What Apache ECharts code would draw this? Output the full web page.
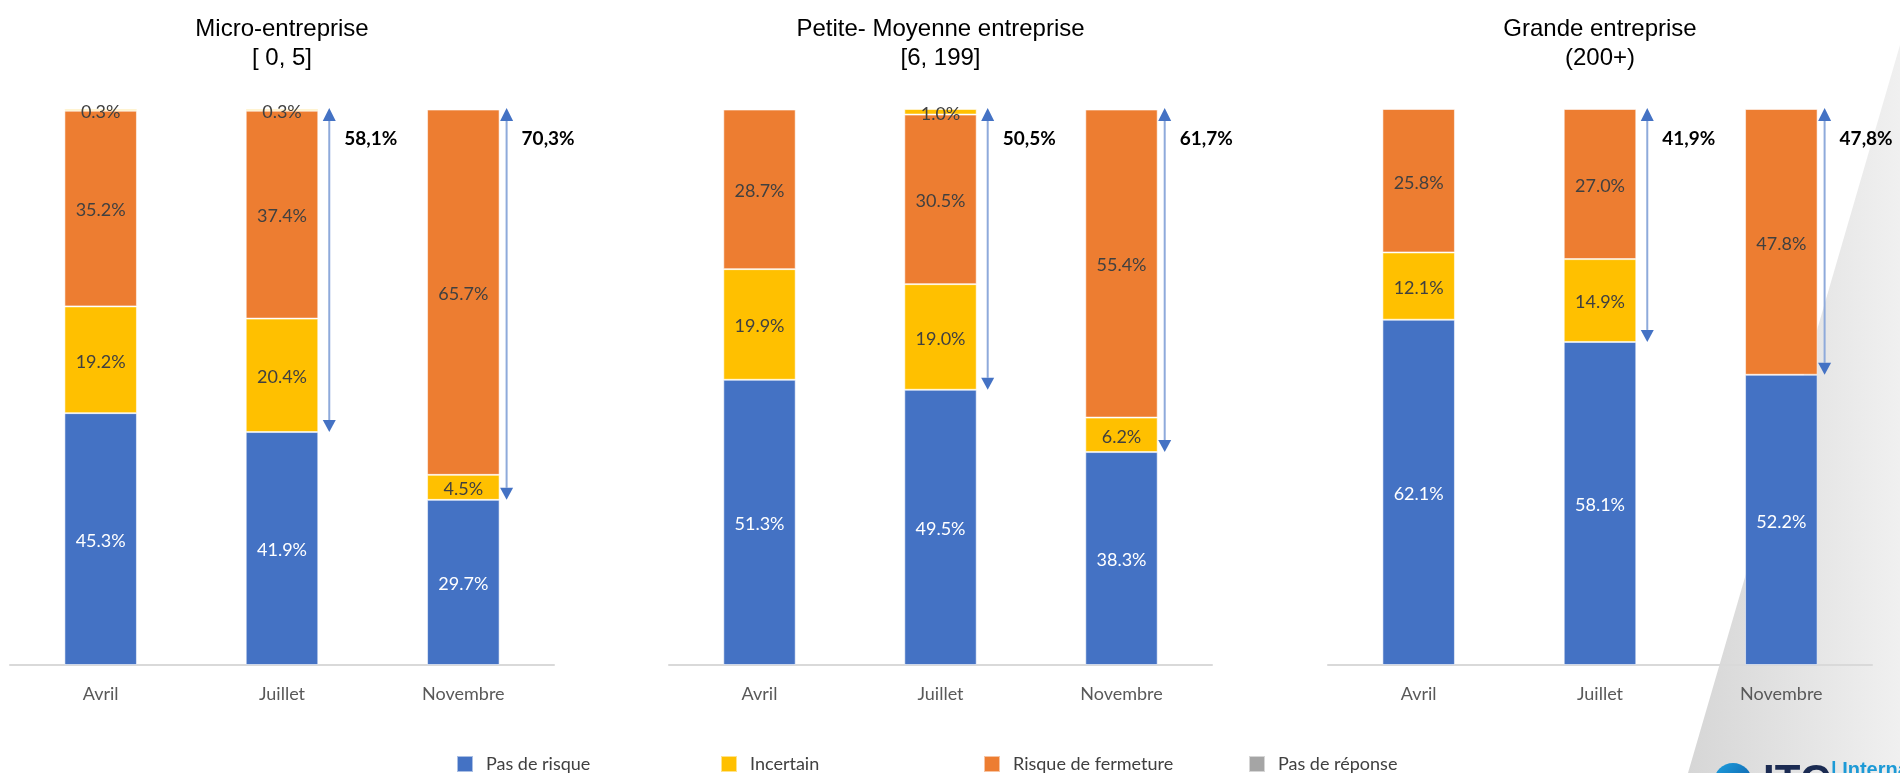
<!DOCTYPE html>
<html>
<head>
<meta charset="utf-8">
<script src="https://cdn.jsdelivr.net/npm/echarts@6/dist/echarts.min.js"></script>
<style>
html,body{margin:0;padding:0;background:#fff;}
#chart{width:1900px;height:773px;}
</style>
</head>
<body>
<div id="chart"></div>
<script>
// ---------- DATA ----------
const categories = ['Avril', 'Juillet', 'Novembre'];
const seriesNames = ['Pas de risque', 'Incertain', 'Risque de fermeture', 'Pas de réponse'];
const panelTitles = ['Micro-entreprise\n[ 0, 5]', 'Petite- Moyenne entreprise\n[6, 199]', 'Grande entreprise\n(200+)'];

// Micro-entreprise [0,5]
const microPasDeRisque = [45.3, 41.9, 29.7];
const microIncertain   = [19.2, 20.4, 4.5];
const microRisque      = [35.2, 37.4, 65.7];
const microPasReponse  = [0.3, 0.3, null];

// Petite- Moyenne entreprise [6,199]
const pmePasDeRisque = [51.3, 49.5, 38.3];
const pmeIncertain   = [19.9, 19.0, 6.2];
const pmeRisque      = [28.7, 30.5, 55.4];
const pmePasReponse  = [null, 1.0, null];

// Grande entreprise (200+)
const grandePasDeRisque = [62.1, 58.1, 52.2];
const grandeIncertain   = [12.1, 14.9, null];
const grandeRisque      = [25.8, 27.0, 47.8];
const grandePasReponse  = [null, null, null];

// Arrows (from 100% down to top of "Pas de risque")
const arrowCategories = ['Juillet', 'Novembre'];
const microArrowBottom  = [41.9, 29.7];
const microArrowLabels  = ['58,1%', '70,3%'];
const pmeArrowBottom    = [49.5, 38.3];
const pmeArrowLabels    = ['50,5%', '61,7%'];
const grandeArrowBottom = [58.1, 52.2];
const grandeArrowLabels = ['41,9%', '47,8%'];

// ---------- STYLE / LAYOUT ----------
const colors = ['#4472c4', '#ffc000', '#ed7d31', '#ffc000'];
const legendIconColors = ['#4472c4', '#ffc000', '#ed7d31', '#a5a5a5'];
const grids = [
  {left: 10, width: 544},
  {left: 669, width: 543},
  {left: 1328, width: 544}
];
const legendLeft = [456, 720, 983, 1248];
const arrowOffset = {Juillet: 11, Novembre: 7};

const panels = [
  {values: [microPasDeRisque, microIncertain, microRisque, microPasReponse], arrowBottom: microArrowBottom, arrowLabels: microArrowLabels},
  {values: [pmePasDeRisque, pmeIncertain, pmeRisque, pmePasReponse], arrowBottom: pmeArrowBottom, arrowLabels: pmeArrowLabels},
  {values: [grandePasDeRisque, grandeIncertain, grandeRisque, grandePasReponse], arrowBottom: grandeArrowBottom, arrowLabels: grandeArrowLabels}
];

const chart = echarts.init(document.getElementById('chart'), null, {renderer: 'canvas'});

const series = [];
panels.forEach((p, pi) => {
  p.values.forEach((vals, si) => {
    series.push({
      type: 'bar',
      name: seriesNames[si],
      xAxisIndex: pi,
      yAxisIndex: pi,
      stack: 'panel' + pi,
      barWidth: '40%',
      data: vals,
      itemStyle: {color: colors[si], borderColor: 'rgba(255,255,255,0.55)', borderWidth: 1},
      label: {
        show: true,
        position: 'inside',
        offset: [0, 2],
        fontFamily: 'Lato',
        fontSize: 18,
        color: si === 0 ? '#ffffff' : '#404040',
        formatter: (d) => (d.value == null ? '' : d.value.toFixed(1) + '%')
      },
      emphasis: {disabled: true},
      animation: false
    });
  });
  const arrowData = arrowCategories.map((c, k) => [categories.indexOf(c), p.arrowBottom[k]]);
  series.push({
    type: 'custom',
    xAxisIndex: pi,
    yAxisIndex: pi,
    data: arrowData,
    silent: true,
    animation: false,
    z: 5,
    renderItem: function (params, api) {
      const ci = api.value(0);
      const v = api.value(1);
      const top = api.coord([ci, 100]);
      const bot = api.coord([ci, v]);
      const bw = api.size([1, 0])[0] * 0.4;
      const x = top[0] + bw / 2 + arrowOffset[categories[ci]];
      const hw = 6.5, hh = 12;
      const label = p.arrowLabels[params.dataIndex];
      return {
        type: 'group',
        children: [
          {type: 'line', shape: {x1: x, y1: top[1] + hh, x2: x, y2: bot[1] - hh},
           style: {stroke: '#8eaadb', lineWidth: 2}},
          {type: 'polygon', shape: {points: [[x, top[1] - 1], [x - hw, top[1] + hh], [x + hw, top[1] + hh]]},
           style: {fill: '#4472c4'}},
          {type: 'polygon', shape: {points: [[x, bot[1]], [x - hw, bot[1] - hh], [x + hw, bot[1] - hh]]},
           style: {fill: '#4472c4'}},
          {type: 'text', x: x + 15, y: top[1] + 30,
           style: {text: label, fontFamily: 'Lato', fontWeight: 'bold', fontSize: 19, fill: '#000',
                   verticalAlign: 'middle', align: 'left'}}
        ]
      };
    }
  });
});

const option = {
  backgroundColor: '#ffffff',
  animation: false,
  title: panelTitles.map((t, i) => ({
    text: t,
    left: grids[i].left + grids[i].width / 2,
    top: 15,
    padding: 0,
    textAlign: 'center',
    textStyle: {fontFamily: 'Liberation Sans', fontSize: 24, fontWeight: 'normal', color: '#000', lineHeight: 29}
  })),
  legend: seriesNames.map((n, i) => ({
    data: [{name: n, itemStyle: {color: legendIconColors[i]}}],
    left: legendLeft[i],
    top: 755,
    padding: 0,
    icon: 'rect',
    itemWidth: 16,
    itemHeight: 16,
    selectedMode: false,
    textStyle: {fontFamily: 'Lato', fontSize: 18, color: '#404040', padding: [0, 0, 0, 8]}
  })),
  grid: grids.map(g => ({left: g.left, width: g.width, top: 109, height: 556, containLabel: false})),
  xAxis: grids.map((g, i) => ({
    type: 'category',
    gridIndex: i,
    data: categories,
    axisTick: {show: false},
    axisLine: {lineStyle: {color: '#d9d9d9', width: 2}},
    axisLabel: {fontFamily: 'Lato', fontSize: 18, color: '#595959', margin: 20}
  })),
  yAxis: grids.map((g, i) => ({
    type: 'value', gridIndex: i, min: 0, max: 100, show: false, splitLine: {show: false}
  })),
  graphic: [
    {
      type: 'polygon', z: -10, silent: true,
      shape: {points: [[1900, 45], [1900, 773], [1688, 773]]},
      style: {fill: new echarts.graphic.LinearGradient(0, 0, 1, 0, [
        {offset: 0, color: '#d6d6d6'}, {offset: 1, color: '#f0f0f0'}
      ])}
    },
    {
      type: 'circle', z: -5, silent: true,
      shape: {cx: 1733, cy: 782, r: 19},
      style: {fill: new echarts.graphic.LinearGradient(0, 0, 1, 1, [
        {offset: 0, color: '#1da1e0'}, {offset: 1, color: '#0b4f9c'}
      ])}
    },
    {
      type: 'text', z: -5, silent: true, x: 1763, y: 761,
      style: {text: 'ITC', fontFamily: 'Liberation Sans', fontWeight: 'bold', fontSize: 42, fill: '#1b2b52', verticalAlign: 'top'}
    },
    {
      type: 'text', z: -5, silent: true, x: 1831, y: 760,
      style: {text: '| International Trade Centre', fontFamily: 'Liberation Sans', fontWeight: 'bold', fontSize: 20, fill: '#1d9ad6', verticalAlign: 'top'}
    }
  ],
  series: series
};
chart.setOption(option);
</script>
</body>
</html>
